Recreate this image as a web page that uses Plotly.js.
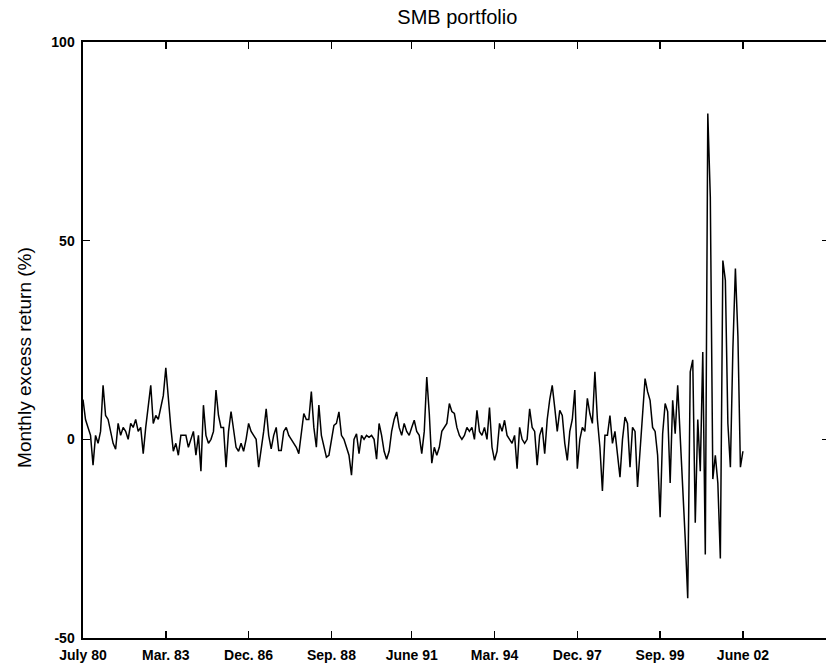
<!DOCTYPE html>
<html>
<head>
<meta charset="utf-8">
<script src="https://cdn.plot.ly/plotly-3.0.1.min.js"></script>
<style>
html,body{margin:0;padding:0;overflow:hidden;background:#fff;}
#chart{width:830px;height:668px;}
</style>
</head>
<body>
<div id="chart"></div>
<script>
// Monthly SMB excess returns (%), July 1980 onwards
const smbReturns = [
  10, 5, 3, 1, -6.5, 1, -1, 2, 13.6, 6,
  5, 2, -1, -2.5, 4, 1, 3, 2, 0, 4,
  3, 5, 2, 3, -3.6, 3, 9, 13.6, 4, 6,
  5, 8, 11, 18, 10, 3, -3, -1, -4, 1,
  1, 1, -2, 0, 2, -4, 1, -8, 8.6, 1,
  -1, 0, 2, 12.4, 6, 3, 3, -7, 2, 7,
  3, -2, -3, -1, -3, 0, 4, 2, 1, 0,
  -7, -3, 2, 7.7, 1, -2.4, 1, 3, -2.8, -2.8,
  2, 3, 1, 0, -1, -2, -3.6, 1, 6.5, 5,
  5, 12, 3, -2, 8.6, 1, -2, -4.5, -4, 0,
  3.5, 4, 6.9, 1, 0, -2, -4, -9, 0, 1.4,
  -3.6, 1, 0, 1, 0.5, 1, 0, -5, 4, 1,
  -3, -5, -3, 2, 5, 6.9, 3, 1, 4, 2,
  1, 3, 4.8, 2, 1, -3.6, 2, 15.7, 6.5, -6,
  -2, -4, -2, 2, 3, 4, 9, 7, 6.5, 3,
  1, 0, 1, 3, 2, 3, 0, 7.3, 2, 1,
  3, 0, 8, -2, -5.3, -3, 4, 2, 4.8, 1,
  0, -1, 1, -7.4, 3, 0, -1, 0, 7.7, 3,
  2, -6.5, 1, 3, -3.6, 5, 10, 13.6, 8, 2,
  7.3, 6, -1, -5.3, 2, 5, 12.4, -7.4, 0, 3,
  2, 10.3, 6.5, 4, 17, 5, -2, -13, 1, 1,
  6, -1, 2, -3, -9.5, 0, 5.6, 4, -7, 3,
  2, -12, -3, 4, 15.3, 12, 9.8, 3, 2, -4,
  -19.6, 1.4, 9, 7, -11, 9.8, 1.4, 13.6, 1, -10,
  -25, -40, 17, 20, -21, 5, -8, 22, -29, 82,
  61, -10, -4, -11, -30, 45, 40, 4, -7, 23,
  43, 26, -7, -3
];
const tickMonths = [0, 33, 66, 99, 131, 164, 197, 230, 263];
const tickLabels = ['July 80', 'Mar. 83', 'Dec. 86', 'Sep. 88', 'June 91', 'Mar. 94', 'Dec. 97', 'Sep. 99', 'June 02'];
const yTickVals = [-50, 0, 50, 100];
const yTickText = ['-50', '0', '50', '100'];
const yTitle = 'Monthly excess return (%)';
const chartTitle = 'SMB portfolio';

const months = smbReturns.map((v, i) => i);

const trace = {
  x: months,
  y: smbReturns,
  type: 'scatter',
  mode: 'lines',
  line: {color: '#000', width: 1.5, shape: 'linear'},
  hoverinfo: 'skip'
};

const FONT = 'Liberation Sans, Arial, sans-serif';
const tickFont = {family: FONT, size: 14, color: '#000', weight: 'bold'};

const layout = {
  width: 830,
  height: 668,
  margin: {l: 83, r: 1, t: 42, b: 30, pad: 0},
  paper_bgcolor: '#fff',
  plot_bgcolor: '#fff',
  showlegend: false,
  title: {
    text: chartTitle,
    font: {family: FONT, size: 20, color: '#000'},
    x: 0.551, xanchor: 'center', y: 0.975, yanchor: 'middle'
  },
  xaxis: {
    range: [0, 297.3],
    tickmode: 'array',
    tickvals: tickMonths,
    ticktext: tickLabels,
    ticks: 'inside', ticklen: 7, tickwidth: 1.5, tickcolor: '#000',
    showline: true, linecolor: '#000', linewidth: 2, mirror: 'ticks',
    showgrid: false, zeroline: false,
    tickfont: tickFont,
    ticklabelstandoff: 3,
    automargin: false
  },
  yaxis: {
    range: [-50, 100],
    tickmode: 'array',
    tickvals: yTickVals,
    ticktext: yTickText,
    ticks: 'inside', ticklen: 7, tickwidth: 1.5, tickcolor: '#000',
    showline: true, linecolor: '#000', linewidth: 2.5, mirror: 'ticks',
    showgrid: false, zeroline: false,
    tickfont: tickFont,
    ticklabelstandoff: 3,
    automargin: false
  },
  annotations: [{
    text: yTitle,
    xref: 'paper', yref: 'paper',
    x: 0, xshift: -58, xanchor: 'center',
    y: 0.47, yanchor: 'middle',
    textangle: -90,
    showarrow: false,
    font: {family: FONT, size: 19, color: '#000'}
  }]
};

Plotly.newPlot('chart', [trace], layout, {staticPlot: true, displayModeBar: false});
</script>
</body>
</html>
